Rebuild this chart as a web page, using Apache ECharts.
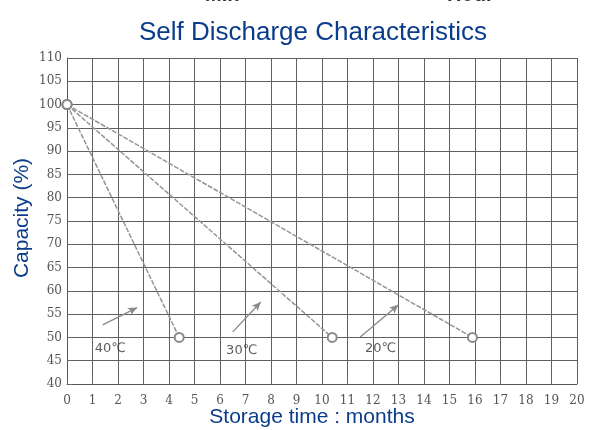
<!DOCTYPE html>
<html>
<head>
<meta charset="utf-8">
<script src="https://cdn.jsdelivr.net/npm/echarts@6/dist/echarts.min.js"></script>
<style>html,body{margin:0;padding:0;background:#fff}#c{width:592px;height:430px}</style>
</head>
<body>
<div id="c"></div>
<script>
// Data
const months40 = [0, 4.4];
const capacity40 = [100, 50];
const months30 = [0, 10.4];
const capacity30 = [100, 50];
const months20 = [0, 15.9];
const capacity20 = [100, 50];

const xTicks = [0,1,2,3,4,5,6,7,8,9,10,11,12,13,14,15,16,17,18,19,20];
const yTicks = [40,45,50,55,60,65,70,75,80,85,90,95,100,105,110];

// Annotation labels and arrow coordinates (data space)
const tempLabels = ['40℃', '30℃', '20℃'];
const labelPos = [[1.7, 47.6], [6.85, 47.2], [12.3, 47.6]];
const arrowFrom = [[1.4, 52.7], [6.5, 51.2], [11.5, 50.1]];
const arrowTo = [[2.75, 56.4], [7.6, 57.6], [13.0, 57.0]];

const zip = (xs, ys) => xs.map((x, i) => [x, ys[i]]);

const lineStyle = { color: '#959595', width: 1.5, type: [5, 1.5] };
const mkSeries = (name, xs, ys) => ({
  name, type: 'line', data: zip(xs, ys),
  symbol: 'emptyCircle', symbolSize: 9,
  itemStyle: { color: '#8a8a8a', borderColor: '#8a8a8a', borderWidth: 1.2 },
  lineStyle, silent: true, animation: false
});

const chart = echarts.init(document.getElementById('c'), null, { renderer: 'canvas' });
chart.setOption({
  animation: false,
  backgroundColor: '#fff',
  title: {
    text: 'Self Discharge Characteristics',
    left: 308, top: 15, textAlign: 'center',
    textStyle: { color: '#0b3c8c', fontSize: 26, fontWeight: 'normal', fontFamily: 'Liberation Sans' }
  },
  grid: { left: 67, right: 15, top: 58, bottom: 46, containLabel: false, outerBoundsMode: 'none' },
  xAxis: {
    type: 'value', min: 0, max: 20, interval: 1,
    name: 'Storage time : months', nameLocation: 'middle', nameGap: 23, nameMoveOverlap: false,
    nameTextStyle: { color: '#0b3c8c', fontSize: 21, fontFamily: 'Liberation Sans', padding: [0, 20, 0, 0] },
    axisLine: { show: true, lineStyle: { color: '#555', width: 1 } },
    axisTick: { show: true, inside: true, length: 5, lineStyle: { color: '#666' } },
    axisLabel: { color: '#555', fontSize: 12, margin: 11, fontFamily: 'DejaVu Serif',
      formatter: v => xTicks.includes(v) ? String(v) : '' },
    splitLine: { show: true, lineStyle: { color: '#606060', width: 1 } }
  },
  yAxis: {
    type: 'value', min: 40, max: 110, interval: 5,
    name: 'Capacity (%)', nameLocation: 'middle', nameGap: 34, nameRotate: 90, nameMoveOverlap: false,
    nameTextStyle: { color: '#0b3c8c', fontSize: 21, fontFamily: 'Liberation Sans', padding: [0, 0, 0, 6] },
    axisLine: { show: true, lineStyle: { color: '#555', width: 1 } },
    axisTick: { show: true, inside: true, length: 5, lineStyle: { color: '#666' } },
    axisLabel: { color: '#555', fontSize: 12, margin: 5, fontFamily: 'DejaVu Serif',
      formatter: v => yTicks.includes(v) ? String(v) : '' },
    splitLine: { show: true, lineStyle: { color: '#606060', width: 1 } }
  },
  series: [
    mkSeries('40℃', months40, capacity40),
    mkSeries('30℃', months30, capacity30),
    mkSeries('20℃', months20, capacity20),
    {
      type: 'scatter', data: labelPos.map((p, i) => ({ value: p, name: tempLabels[i] })),
      symbolSize: 0, silent: true,
      label: { show: true, formatter: p => p.name, position: 'inside',
        color: '#333', fontSize: 13, fontFamily: 'DejaVu Sans' },
      markLine: {
        silent: true, symbol: ['none', 'arrow'], symbolSize: [6, 9],
        label: { show: false },
        lineStyle: { color: '#8a8a8a', width: 1.3, type: 'solid' },
        data: arrowFrom.map((f, i) => [{ coord: f }, { coord: arrowTo[i] }])
      }
    }
  ],
  graphic: [
    { type: 'text', left: 205, top: -15, style: { text: 'Min', fontSize: 20, fontWeight: 'bold', fill: '#333', fontFamily: 'Liberation Sans' } },
    { type: 'text', left: 447, top: -15, style: { text: 'Hour', fontSize: 20, fontWeight: 'bold', fill: '#333', fontFamily: 'Liberation Sans' } }
  ]
});
</script>
</body>
</html>
